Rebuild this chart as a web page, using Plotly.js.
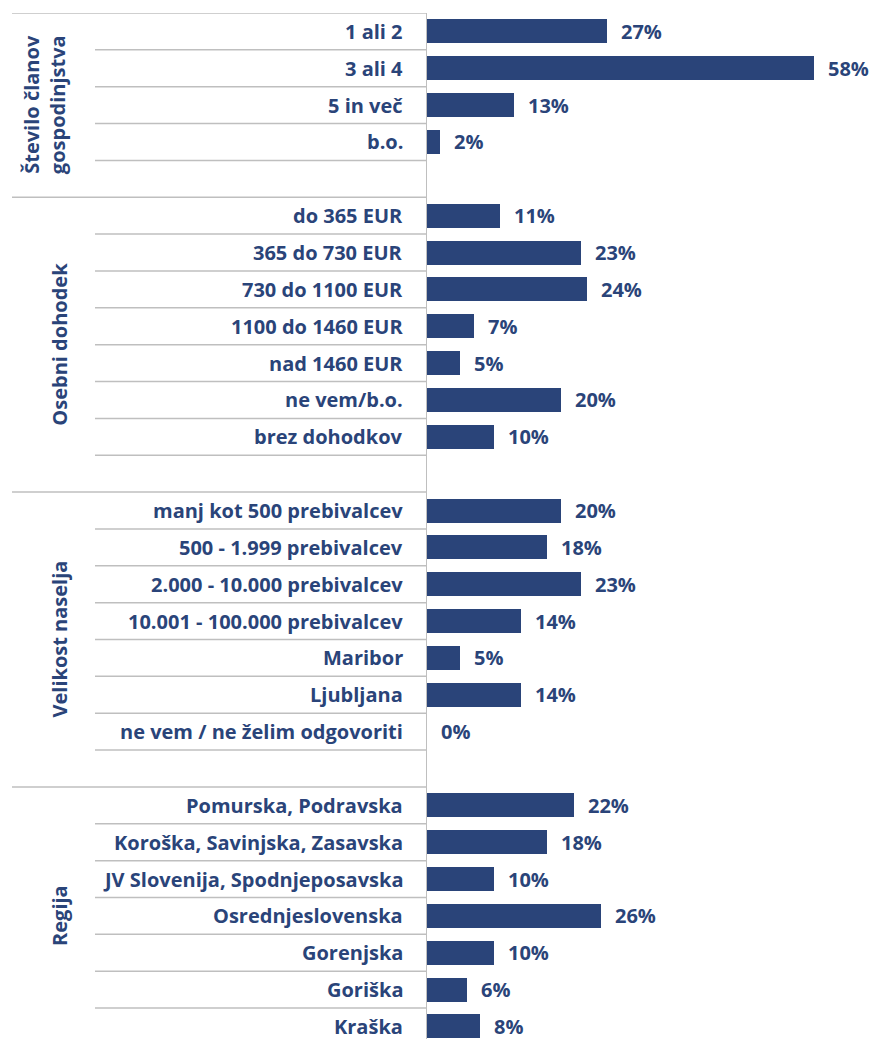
<!DOCTYPE html>
<html><head><meta charset="utf-8">
<script src="https://cdn.plot.ly/plotly-3.0.1.min.js"></script>
<style>html,body{margin:0;padding:0;background:#fff}</style>
</head><body><div id="chart" style="width:870px;height:1039px"></div>
<script>
const groupNames = ['Število članov<br>gospodinjstva', 'Osebni dohodek', 'Velikost naselja', 'Regija'];
const cats1 = ['1 ali 2', '3 ali 4', '5 in več', 'b.o.'];
const vals1 = [27, 58, 13, 2];
const cats2 = ['do 365 EUR', '365 do 730 EUR', '730 do 1100 EUR', '1100 do 1460 EUR', 'nad 1460 EUR', 'ne vem/b.o.', 'brez dohodkov'];
const vals2 = [11, 23, 24, 7, 5, 20, 10];
const cats3 = ['manj kot 500 prebivalcev', '500 - 1.999 prebivalcev', '2.000 - 10.000 prebivalcev', '10.001 - 100.000 prebivalcev', 'Maribor', 'Ljubljana', 'ne vem / ne želim odgovoriti'];
const vals3 = [20, 18, 23, 14, 5, 14, 0];
const cats4 = ['Pomurska, Podravska', 'Koroška, Savinjska, Zasavska', 'JV Slovenija, Spodnjeposavska', 'Osrednjeslovenska', 'Gorenjska', 'Goriška', 'Kraška'];
const vals4 = [22, 18, 10, 26, 10, 6, 8];

const groups = [[cats1, vals1], [cats2, vals2], [cats3, vals3], [cats4, vals4]];
const navy = '#2A4479';
const lineCol = '#BFBFBF';
const fontFam = '"Open Sans", Lato, sans-serif';
const fsz = 20;

const L = 427, W = 870 - L;
const px2paper = p => (p - L) / W;

let ys = [], xs = [];
let annotations = [], shapes = [];
let row = 0;
groups.forEach((g, gi) => {
  const [cats, vals] = g;
  const start = row;
  shapes.push({type: 'line', xref: 'paper', yref: 'y', x0: px2paper(12), x1: 0, y0: start - 0.5, y1: start - 0.5, line: {color: lineCol, width: 1.5}});
  cats.forEach((c, i) => {
    ys.push(row); xs.push(vals[i]);
    annotations.push({xref: 'x', yref: 'y', x: 0, y: row, xshift: -22, xanchor: 'right', yanchor: 'middle', text: c, showarrow: false, font: {family: fontFam, size: fsz, color: navy, weight: 'bold'}});
    annotations.push({xref: 'x', yref: 'y', x: vals[i], y: row, xshift: 12, xanchor: 'left', yanchor: 'middle', text: vals[i] + '%', showarrow: false, font: {family: fontFam, size: fsz, color: navy, weight: 'bold'}});
    row++;
    shapes.push({type: 'line', xref: 'paper', yref: 'y', x0: px2paper(95), x1: 0, y0: row - 0.5, y1: row - 0.5, line: {color: lineCol, width: 1.5}});
  });
  let end = row;
  if (gi < groups.length - 1) { row++; end = row; }
  const mid = (start + end - 1) / 2;
  annotations.push({xref: 'paper', yref: 'y', x: px2paper(gi === 0 ? 44 : 60), y: mid, xanchor: 'center', yanchor: 'middle', textangle: -90, text: groupNames[gi], showarrow: false, font: {family: fontFam, size: fsz, color: navy, weight: 'bold'}});
});

const trace = {type: 'bar', orientation: 'h', x: xs, y: ys, width: 0.65,
  marker: {color: navy}, hoverinfo: 'none'};

const layout = {
  width: 870, height: 1039,
  margin: {l: L, r: 0, t: 13, b: 0},
  paper_bgcolor: '#fff', plot_bgcolor: '#fff',
  showlegend: false,
  bargap: 0,
  xaxis: {range: [0, W / 6.68], showgrid: false, zeroline: false, showticklabels: false, ticks: '', showline: false, fixedrange: true},
  yaxis: {range: [27.34, -0.5], showgrid: false, zeroline: false, showticklabels: false, ticks: '', showline: true, linecolor: lineCol, linewidth: 1.5, fixedrange: true},
  annotations: annotations,
  shapes: shapes
};
Plotly.newPlot('chart', [trace], layout, {displayModeBar: false, staticPlot: true});
</script></body></html>
